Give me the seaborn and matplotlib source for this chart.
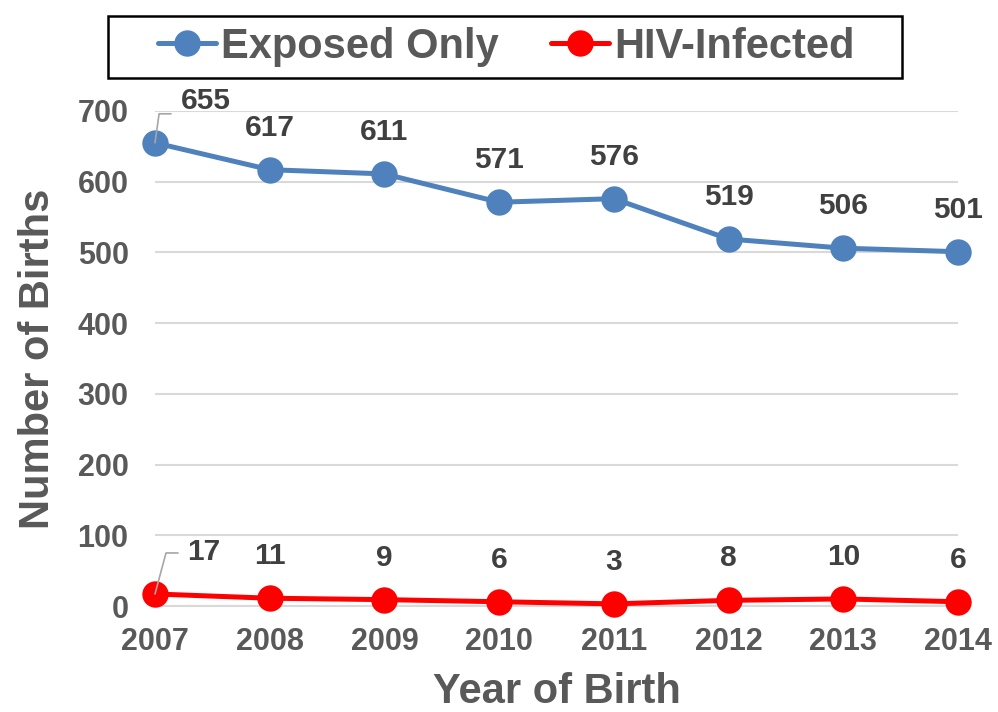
import matplotlib
matplotlib.use("Agg")
import matplotlib.pyplot as plt
from matplotlib.patches import Rectangle
import seaborn as sns
import pandas as pd

years = [2007, 2008, 2009, 2010, 2011, 2012, 2013, 2014]
exposed_only = [655, 617, 611, 571, 576, 519, 506, 501]
hiv_infected = [17, 11, 9, 6, 3, 8, 10, 6]
series_names = ["Exposed Only", "HIV-Infected"]
series_colors = ["#4F81BD", "#FF0000"]
y_ticks = [0, 100, 200, 300, 400, 500, 600, 700]

sns.set_style("white")
plt.rcParams["font.family"] = ["Liberation Sans", "DejaVu Sans"]
plt.rcParams["font.weight"] = "bold"

df = pd.DataFrame({
    "year": years * 2,
    "births": exposed_only + hiv_infected,
    "series": [series_names[0]] * len(years) + [series_names[1]] * len(years),
})

fig = plt.figure(figsize=(9.98, 7.12), dpi=100)
ax = fig.add_axes([155 / 998, 1 - 606 / 712, (958 - 155) / 998, 495 / 712])

sns.lineplot(data=df, x="year", y="births", hue="series", hue_order=series_names,
             palette=series_colors, marker="o", markersize=19, markeredgewidth=0,
             linewidth=3.6, legend=False, ax=ax, zorder=3)
for ln in ax.lines:
    ln.set_clip_on(False)

ax.set_xlim(2007, 2014)
ax.set_ylim(0, 700)
ax.set_xticks(years)
ax.set_xticklabels([str(y) for y in years])
ax.set_yticks(y_ticks)
ax.yaxis.grid(True, color="#D9D9D9", linewidth=1.5)
ax.set_axisbelow(True)
for s in ["top", "right", "left"]:
    ax.spines[s].set_visible(False)
ax.spines["bottom"].set_color("#D9D9D9")
ax.spines["bottom"].set_linewidth(1.5)
ax.tick_params(axis="x", direction="out", length=6, width=1.5, color="#D9D9D9",
               pad=9, labelsize=22, labelcolor="#595959")
ax.tick_params(axis="y", length=0, pad=19, labelsize=22, labelcolor="#595959")
for lab in ax.get_xticklabels() + ax.get_yticklabels():
    lab.set_fontweight("bold")

ax.set_xlabel("Year of Birth", fontsize=30, fontweight="bold", color="#595959", labelpad=11)
ax.set_ylabel("Number of Births", fontsize=30, fontweight="bold", color="#595959", labelpad=14)

label_color = "#404040"
for vals in (exposed_only, hiv_infected):
    for i, (x, v) in enumerate(zip(years, vals)):
        if i == 0:
            continue
        ax.annotate(str(v), xy=(x, v), xytext=(0, 42), textcoords="offset pixels",
                    ha="center", va="center", fontsize=21.5, fontweight="bold",
                    color=label_color, zorder=5, annotation_clip=False)

# first points: labels offset with leader lines
ax.annotate(str(exposed_only[0]), xy=(years[0], exposed_only[0]), xytext=(51, 42),
            textcoords="offset pixels", ha="center", va="center", fontsize=21.5,
            fontweight="bold", color=label_color, annotation_clip=False)
ax.annotate("", xy=(years[0], exposed_only[0]), xytext=(16, 29), textcoords="offset pixels",
            arrowprops=dict(arrowstyle="-", color="#A6A6A6", lw=1.2, shrinkA=0, shrinkB=0,
                            connectionstyle="angle,angleA=0,angleB=82,rad=0"),
            annotation_clip=False, zorder=4)
ax.annotate(str(hiv_infected[0]), xy=(years[0], hiv_infected[0]), xytext=(49, 42),
            textcoords="offset pixels", ha="center", va="center", fontsize=21.5,
            fontweight="bold", color=label_color, annotation_clip=False)
ax.annotate("", xy=(years[0], hiv_infected[0]), xytext=(23, 41), textcoords="offset pixels",
            arrowprops=dict(arrowstyle="-", color="#A6A6A6", lw=1.2, shrinkA=0, shrinkB=0,
                            connectionstyle="angle,angleA=0,angleB=75,rad=0"),
            annotation_clip=False, zorder=4)

# legend box and entries
fig.patches.append(Rectangle((108 / 998, 1 - 78 / 712), 794 / 998, 62 / 712,
                             transform=fig.transFigure, fill=False, edgecolor="black",
                             linewidth=1.8, zorder=10))
handles = ax.lines[:2]
leg = fig.legend(handles=handles, labels=series_names, loc="center",
                 bbox_to_anchor=(506 / 998, 1 - 47 / 712), ncol=2, frameon=False,
                 fontsize=30, handlelength=1.4, handletextpad=0.12, columnspacing=1.25,
                 borderpad=0, borderaxespad=0)
for t in leg.get_texts():
    t.set_color("#595959")
    t.set_fontweight("bold")

fig.savefig("out.png", dpi=100)
